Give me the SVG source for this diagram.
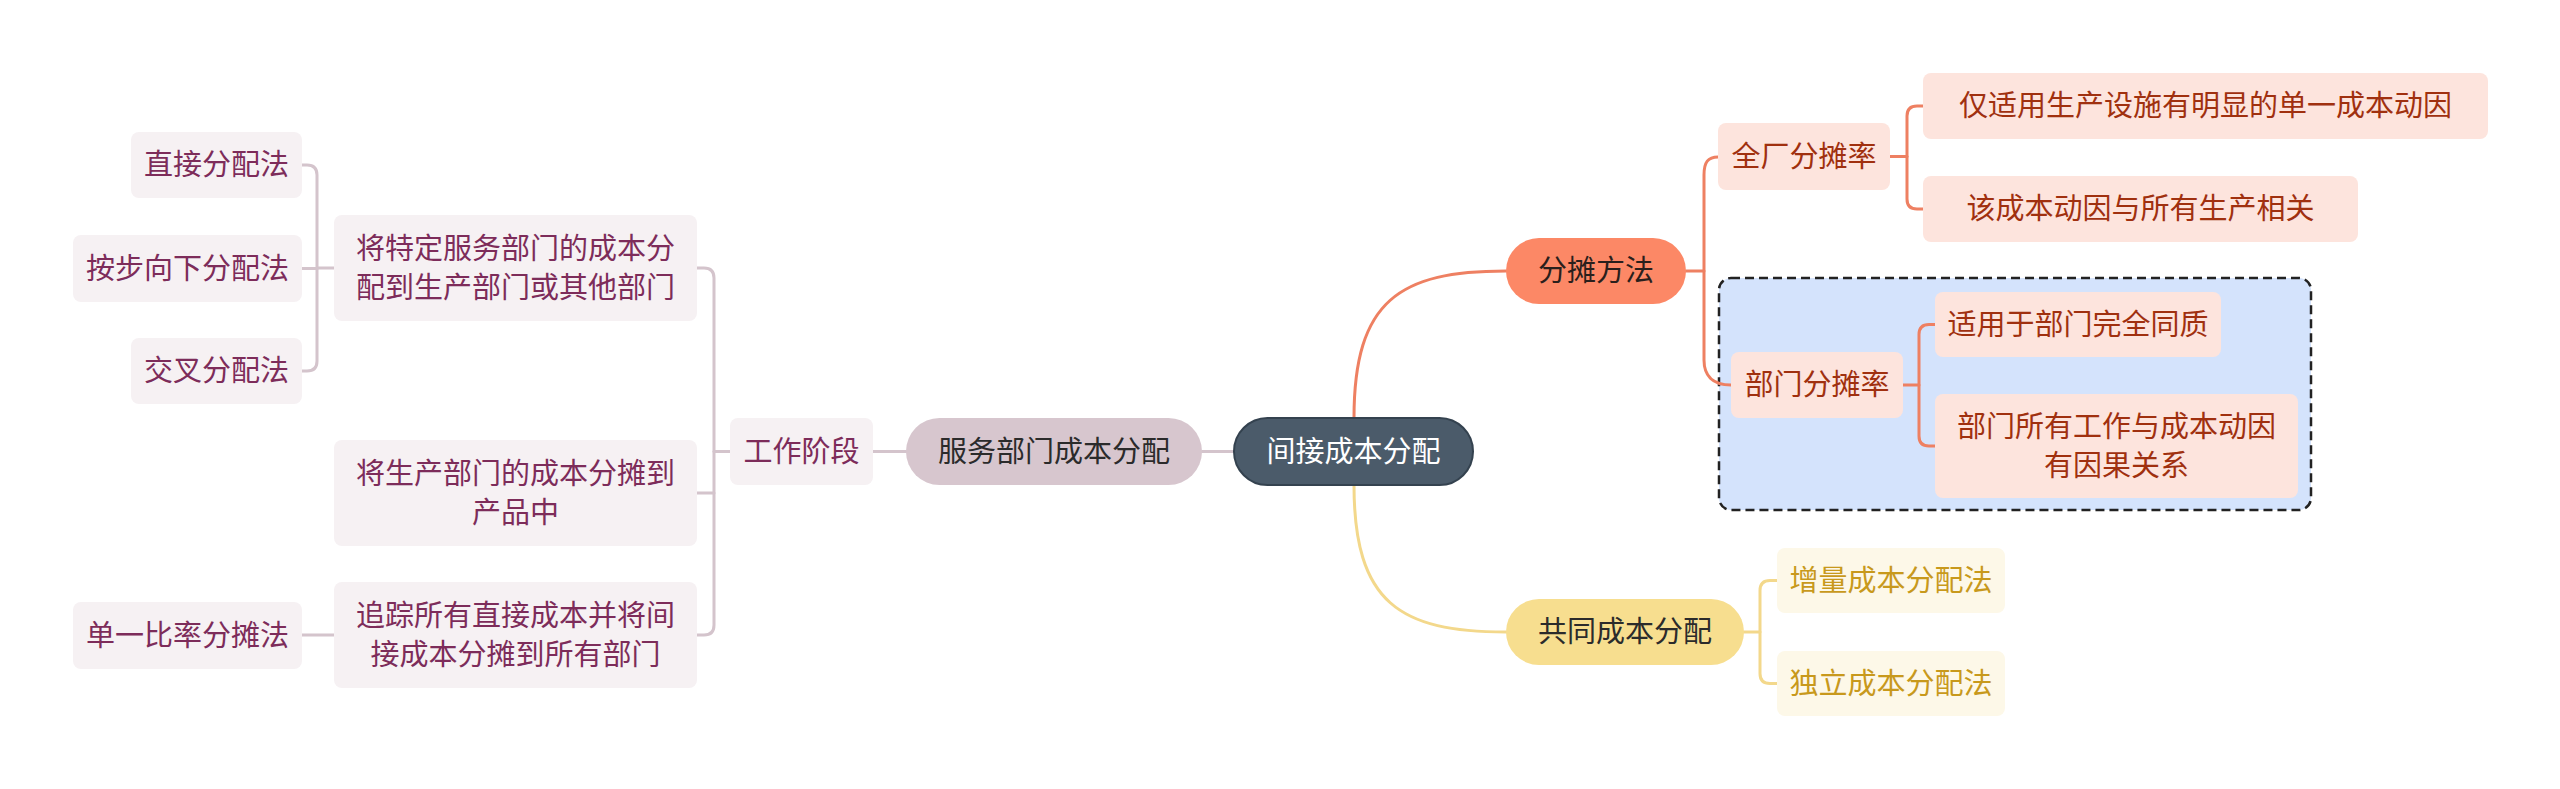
<svg xmlns="http://www.w3.org/2000/svg" width="2560" height="789" viewBox="0 0 2560 789">
<style>
text{font-family:"Noto Sans CJK SC","Noto Sans",sans-serif;font-size:29px;text-anchor:middle}
.c{fill:none;stroke-width:3;stroke-linecap:round}
.cm{stroke:#d4c4cc}.cs{stroke:#ee8062}.cy{stroke:#f3d88b}
.lf{fill:#f6f1f3}.lt{fill:#7d2c5a}
.rf{fill:#fde4dd}.rt{fill:#a0300f}
.yf{fill:#fdf8e8}.yt{fill:#c8991c}
</style>
<rect width="2560" height="789" fill="#ffffff"/>
<rect id="group-box" x="1719" y="278" width="592" height="232" rx="12" fill="#d4e3fc" stroke="#222" stroke-width="2.5" stroke-dasharray="9 5"/>
<g id="connectors">
<path class="c cm" d="M1202,451.5 H1234"/>
<path class="c cm" d="M873,451.5 H906"/>
<path class="c cm" d="M730,451.5 H714"/>
<path class="c cm" d="M697,268 H704 Q714,268 714,278 V625 Q714,635 704,635 H697"/>
<path class="c cm" d="M714,493 H697"/>
<path class="c cm" d="M334,268 H317"/>
<path class="c cm" d="M302,165 H307 Q317,165 317,175 V361 Q317,371 307,371 H302"/>
<path class="c cm" d="M317,268.5 H302"/>
<path class="c cm" d="M334,635 H302"/>
<path class="c cs" d="M1354,418 C1354,300 1400,271 1506,271"/>
<path class="c cy" d="M1354,485 C1354,603 1400,632 1506,632"/>
<path class="c cs" d="M1686,271 H1704"/>
<path class="c cs" d="M1718,157 C1708,157 1704,162 1704,175 V360 C1704,375 1712,385 1731,385"/>
<path class="c cs" d="M1890,156.5 H1907"/>
<path class="c cs" d="M1923,106 H1917 Q1907,106 1907,116 V199 Q1907,209 1917,209 H1923"/>
<path class="c cs" d="M1903,385 H1919"/>
<path class="c cs" d="M1935,324.5 H1929 Q1919,324.5 1919,334.5 V436 Q1919,446 1929,446 H1935"/>
<path class="c cy" d="M1744,632 H1760"/>
<path class="c cy" d="M1777,580.5 H1770 Q1760,580.5 1760,590.5 V673.5 Q1760,683.5 1770,683.5 H1777"/>
</g>
<g id="root"><rect x="1234" y="418" width="239" height="67" rx="33.5" fill="#4b5b6a" stroke="#34424f" stroke-width="2"/><text x="1353.5" y="461.5" fill="#ffffff">间接成本分配</text></g>
<g id="fuwu"><rect x="906" y="418" width="296" height="67" rx="33.5" fill="#d7c6ce"/><text x="1054" y="461.5" fill="#2b2b2b">服务部门成本分配</text></g>
<g id="gongzuo"><rect class="lf" x="730" y="418" width="143" height="67" rx="8"/><text class="lt" x="801.5" y="461.5">工作阶段</text></g>
<g id="teding"><rect class="lf" x="334" y="215" width="363" height="106" rx="8"/><text class="lt" x="515.5" y="259">将特定服务部门的成本分</text><text class="lt" x="515.5" y="298">配到生产部门或其他部门</text></g>
<g id="shengchan"><rect class="lf" x="334" y="440" width="363" height="106" rx="8"/><text class="lt" x="515.5" y="484">将生产部门的成本分摊到</text><text class="lt" x="515.5" y="523">产品中</text></g>
<g id="zhuizong"><rect class="lf" x="334" y="582" width="363" height="106" rx="8"/><text class="lt" x="515.5" y="626">追踪所有直接成本并将间</text><text class="lt" x="515.5" y="665">接成本分摊到所有部门</text></g>
<g id="zhijie"><rect class="lf" x="131" y="132" width="171" height="66" rx="8"/><text class="lt" x="216.5" y="175">直接分配法</text></g>
<g id="anbu"><rect class="lf" x="73" y="235" width="229" height="67" rx="8"/><text class="lt" x="187.5" y="278.5">按步向下分配法</text></g>
<g id="jiaocha"><rect class="lf" x="131" y="338" width="171" height="66" rx="8"/><text class="lt" x="216.5" y="381">交叉分配法</text></g>
<g id="danyi"><rect class="lf" x="73" y="602" width="229" height="67" rx="8"/><text class="lt" x="187.5" y="645.5">单一比率分摊法</text></g>
<g id="fentan"><rect x="1506" y="238" width="180" height="66" rx="33" fill="#fc8866"/><text x="1596" y="281" fill="#2a1f1c">分摊方法</text></g>
<g id="gongtong"><rect x="1506" y="599" width="238" height="66" rx="33" fill="#f7de8f"/><text x="1625" y="642" fill="#2b2b2b">共同成本分配</text></g>
<g id="quanchang"><rect class="rf" x="1718" y="123" width="172" height="67" rx="8"/><text class="rt" x="1804" y="166.5">全厂分摊率</text></g>
<g id="jinshiyong"><rect class="rf" x="1923" y="73" width="565" height="66" rx="8"/><text class="rt" x="2205.5" y="116">仅适用生产设施有明显的单一成本动因</text></g>
<g id="gai"><rect class="rf" x="1923" y="176" width="435" height="66" rx="8"/><text class="rt" x="2140.5" y="219">该成本动因与所有生产相关</text></g>
<g id="bumen"><rect class="rf" x="1731" y="352" width="172" height="66" rx="8"/><text class="rt" x="1817" y="395">部门分摊率</text></g>
<g id="shiyong"><rect class="rf" x="1935" y="292" width="286" height="65" rx="8"/><text class="rt" x="2078" y="334.5">适用于部门完全同质</text></g>
<g id="bumensuoyou"><rect class="rf" x="1935" y="394" width="363" height="104" rx="8"/><text class="rt" x="2116.5" y="437">部门所有工作与成本动因</text><text class="rt" x="2116.5" y="476">有因果关系</text></g>
<g id="zengliang"><rect class="yf" x="1777" y="548" width="228" height="65" rx="8"/><text class="yt" x="1891" y="590.5">增量成本分配法</text></g>
<g id="duli"><rect class="yf" x="1777" y="651" width="228" height="65" rx="8"/><text class="yt" x="1891" y="693.5">独立成本分配法</text></g>
</svg>
